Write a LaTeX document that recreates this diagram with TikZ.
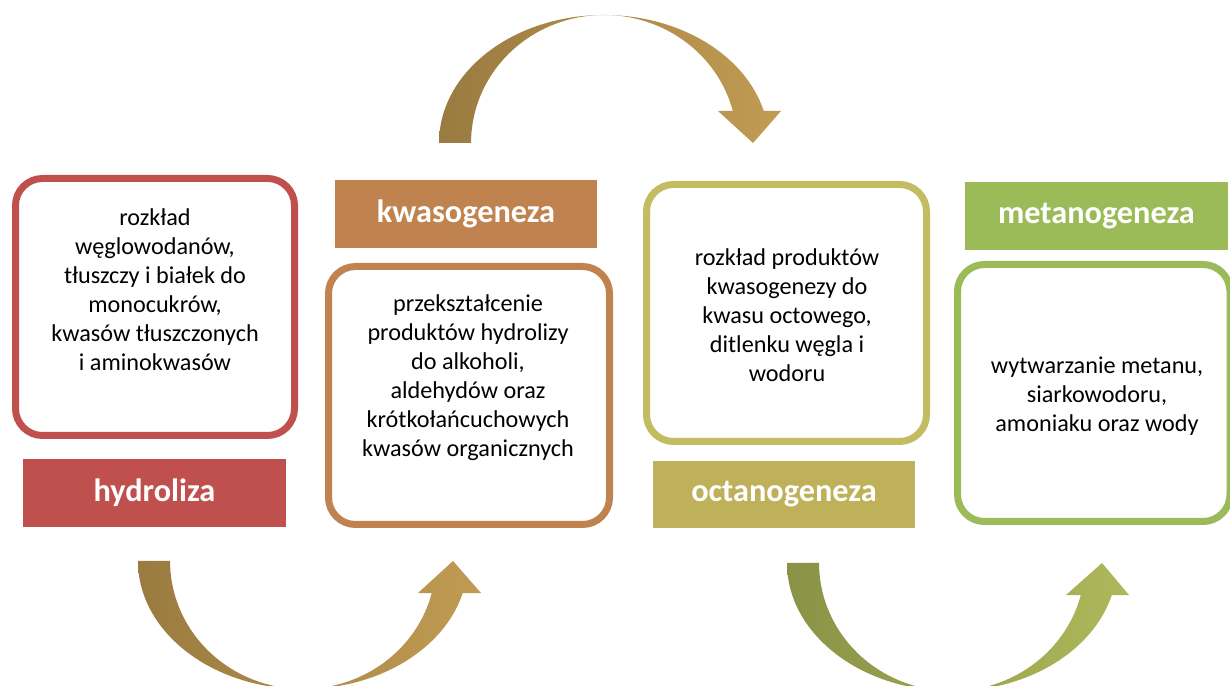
\documentclass[tikz,border=0pt]{standalone}
\usepackage{fontspec}
\setmainfont{Carlito}
\definecolor{cred}{HTML}{C0504D}
\definecolor{corange}{HTML}{C08350}
\definecolor{colive}{HTML}{C4BC60}
\definecolor{colivelab}{HTML}{BFB05A}
\definecolor{cgreen}{HTML}{9BBB59}
\definecolor{brownL}{HTML}{9A7B40}
\definecolor{brownR}{HTML}{C19B53}
\definecolor{greenL}{HTML}{8A9246}
\definecolor{greenR}{HTML}{AEB85A}
\begin{document}
\begin{tikzpicture}[x=1pt,y=1pt,
  descbox/.style={draw, line width=7pt, rounded corners=27pt, fill=white, inner sep=0pt},
  labelbox/.style={inner sep=0pt, text=white, font=\fontsize{32.3}{36}\selectfont\bfseries},
  desctext/.style={align=center, text=black, font=\fontsize{24.2}{29}\selectfont, inner sep=0pt}]
\useasboundingbox (0,0) rectangle (1230,685);
\fill[white] (0,0) rectangle (1230,685);

% arrows
\shade[left color=brownL, right color=brownR]
  (439,542) arc[start angle=180, end angle=14.48, x radius=165, y radius=128]
  -- (781,574) -- (753,542) -- (718,574) -- (732.8,574)
  arc[start angle=14.48, end angle=180, x radius=133, y radius=128] -- cycle;
\shade[left color=brownL, right color=brownR]
  (138,124) arc[start angle=180, end angle=345.52, x radius=165, y radius=128]
  -- (481,92) -- (453,124) -- (418,92) -- (431.8,92)
  arc[start angle=345.52, end angle=180, x radius=133, y radius=128] -- cycle;
\shade[left color=greenL, right color=greenR]
  (787,122) arc[start angle=180, end angle=345.52, x radius=165, y radius=128]
  -- (1129,90) -- (1102,122) -- (1066,90) -- (1080.8,90)
  arc[start angle=345.52, end angle=180, x radius=133, y radius=128] -- cycle;

% boxes
\node[descbox, draw=cred, minimum width=279pt, minimum height=257pt] (b1) at (155,378) {};
\node[descbox, draw=corange, minimum width=281pt, minimum height=258pt] (b2) at (469,289.5) {};
\node[descbox, draw=colive, minimum width=280pt, minimum height=257pt] (b3) at (786.5,372) {};
\node[descbox, draw=cgreen, minimum width=272.5pt, minimum height=257pt] (b4) at (1093.75,292) {};

\node[desctext] (t1) at (155,395) {rozkład\\węglowodanów,\\tłuszczy i białek do\\monocukrów,\\kwasów tłuszczonych\\i aminokwasów};
\node[desctext] (t2) at (468,307.5) {przekształcenie\\produktów hydrolizy\\do alkoholi,\\aldehydów oraz\\krótkołańcuchowych\\kwasów organicznych};
\node[desctext] (t3) at (787,370) {rozkład produktów\\kwasogenezy do\\kwasu octowego,\\ditlenku węgla i\\wodoru};
\node[desctext] (t4) at (1097,288.5) {wytwarzanie metanu,\\siarkowodoru,\\amoniaku oraz wody};

% labels
\node[labelbox, fill=cred, minimum width=263pt, minimum height=68pt] (l1) at (154.5,192) {hydroliza};
\node[labelbox, fill=corange, minimum width=262pt, minimum height=68pt] (l2) at (466,471) {kwasogeneza};
\node[labelbox, fill=colivelab, minimum width=262pt, minimum height=67pt] (l3) at (784,190.5) {octanogeneza};
\node[labelbox, fill=cgreen, minimum width=263pt, minimum height=68pt] (l4) at (1096.5,469) {metanogeneza};
\end{tikzpicture}
\end{document}
